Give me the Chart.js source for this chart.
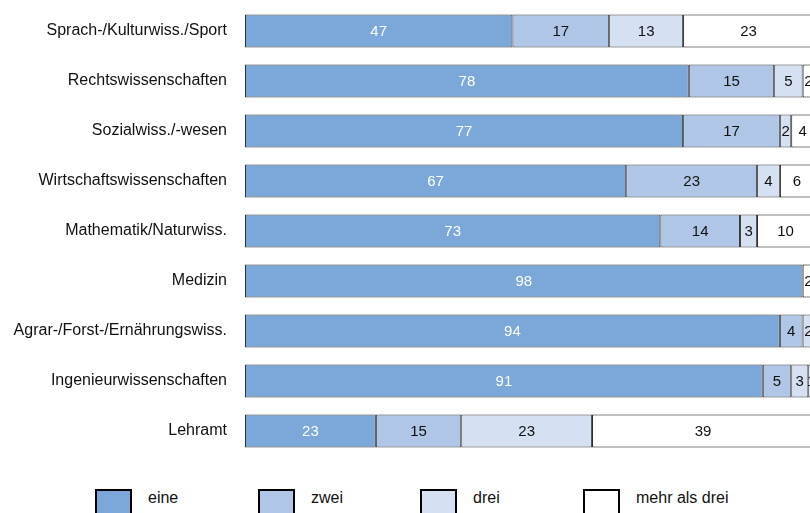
<!DOCTYPE html>
<html><head><meta charset="utf-8">
<script src="https://cdn.jsdelivr.net/npm/chart.js@4/dist/chart.umd.min.js"></script>
<style>
html,body{margin:0;padding:0;background:#fff;overflow:hidden;width:810px;height:513px;}
#c{position:absolute;left:0;top:0;}
#legend{position:absolute;left:0;top:489px;width:810px;height:30px;font-family:"Liberation Sans",Arial,sans-serif;font-size:16px;color:#111;}
.li{position:absolute;top:0;height:30px;}
.bx{position:absolute;left:0;top:0;width:37px;height:30px;box-sizing:border-box;border:2px solid #000;}
.lt{position:absolute;left:53px;top:-1px;white-space:nowrap;line-height:20px;}
</style></head>
<body>
<canvas id="c" width="814" height="462" style="width:814px;height:462px;"></canvas>
<div id="legend"></div>
<script>
const categories = ["Sprach-/Kulturwiss./Sport","Rechtswissenschaften","Sozialwiss./-wesen","Wirtschaftswissenschaften","Mathematik/Naturwiss.","Medizin","Agrar-/Forst-/Ernährungswiss.","Ingenieurwissenschaften","Lehramt"];
const seriesNames = ["eine","zwei","drei","mehr als drei"];
const eine = [47,78,77,67,73,98,94,91,23];
const zwei = [17,15,17,23,14,0,4,5,15];
const drei = [13,5,2,4,3,0,2,3,23];
const mehrAlsDrei = [23,2,4,6,10,2,0,1,39];
const colors = ["#7BA7D9","#AFC6E6","#D5E1F2","#FFFFFF"];
const borders = ["#333333","#3a3a3a","#3a3a3a","#000000"];
const labelColors = ["#FFFFFF","#111111","#111111","#111111"];
const legendX = [95,258,420,583];

const all = [eine,zwei,drei,mehrAlsDrei];
const datasets = all.map((arr,i)=>({
  label: seriesNames[i],
  data: arr.map(v=> v===0 ? null : v),
  backgroundColor: colors[i],
  borderColor: borders[i],
  borderWidth: 1,
  borderSkipped: false,
  barPercentage: 0.66,
  categoryPercentage: 1.0
}));

const labelPlugin = {
  id:'segLabels',
  afterDatasetsDraw(chart){
    const ctx = chart.ctx;
    ctx.save();
    ctx.font = '15px "Liberation Sans", Arial, sans-serif';
    ctx.textAlign = 'center';
    ctx.textBaseline = 'middle';
    chart.data.datasets.forEach((ds,di)=>{
      const meta = chart.getDatasetMeta(di);
      meta.data.forEach((el,j)=>{
        const v = ds.data[j];
        if(v==null) return;
        ctx.fillStyle = labelColors[di];
        ctx.fillText(String(v),(el.x+el.base)/2, el.y+1);
      });
    });
    ctx.restore();
  }
};

new Chart(document.getElementById('c'),{
  type:'bar',
  data:{labels:categories,datasets},
  options:{
    indexAxis:'y',
    responsive:false,
    animation:false,
    devicePixelRatio:1,
    layout:{padding:{top:6,bottom:6,left:0,right:0}},
    plugins:{legend:{display:false},tooltip:{enabled:false}},
    scales:{
      x:{stacked:true,min:0,max:100,display:false},
      y:{stacked:true,
         grid:{display:false,drawTicks:false},
         border:{display:false},
         ticks:{padding:18,color:'#111',font:{family:'"Liberation Sans", Arial, sans-serif',size:16,lineHeight:1.35}},
         afterFit(s){s.width=245;s.paddingTop=0;s.paddingBottom=0;}
      }
    }
  },
  plugins:[labelPlugin]
});

const lg = document.getElementById('legend');
seriesNames.forEach((n,i)=>{
  const d=document.createElement('div');d.className='li';d.style.left=legendX[i]+'px';
  const b=document.createElement('div');b.className='bx';b.style.background=colors[i];
  const t=document.createElement('div');t.className='lt';t.textContent=n;
  d.appendChild(b);d.appendChild(t);lg.appendChild(d);
});
</script>
</body></html>
